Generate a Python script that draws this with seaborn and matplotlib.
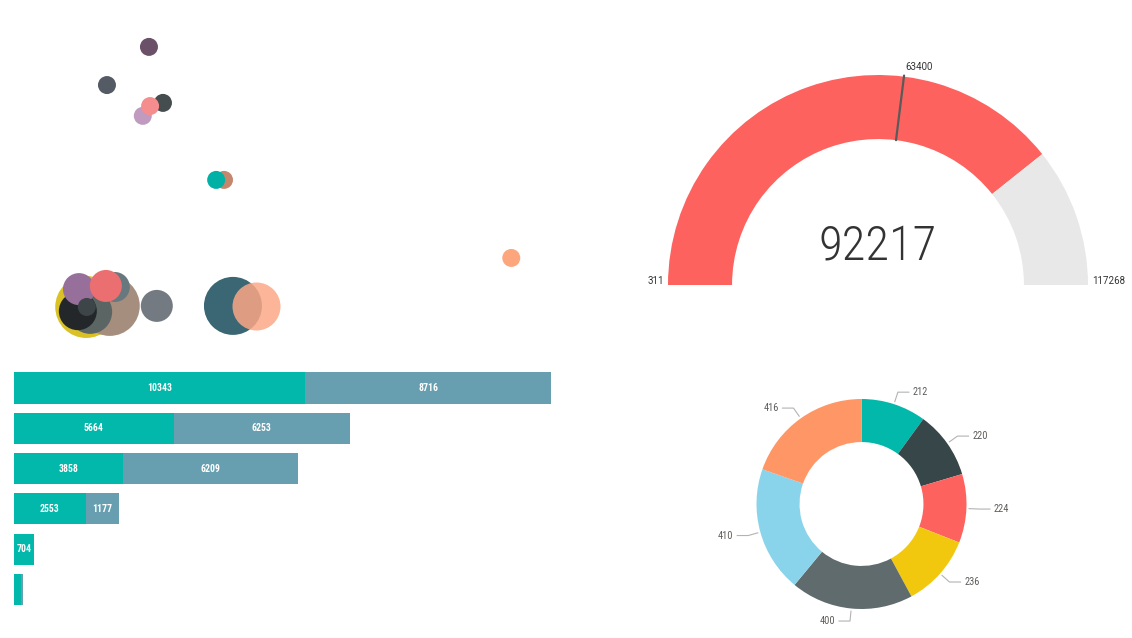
import numpy as np
import pandas as pd
import seaborn as sns
import matplotlib.pyplot as plt
from matplotlib import font_manager

sns.set_theme(style='white')
installed = {f.name for f in font_manager.fontManager.ttflist}
cond_font = next((f for f in ['Roboto Condensed', 'Liberation Sans Narrow', 'DejaVu Sans Condensed']
                  if f in installed), 'Roboto')
plt.rcParams['font.family'] = ['Roboto', 'DejaVu Sans']

# bubble chart (no axes shown)
bubble_names = ['b01', 'b02', 'b03', 'b04', 'b05', 'b06', 'b07', 'b08', 'b09', 'b10',
                'b11', 'b12', 'b13', 'b14', 'b15', 'b16', 'b17', 'b18', 'b19']
bubble_x = [26.6, 19.1, 29.1, 25.5, 26.8, 40.0, 38.6, 91.3, 15.4, 19.6,
            16.1, 13.9, 20.5, 14.1, 18.9, 15.5, 28.0, 41.6, 45.7]
bubble_y = [86.6, 75.7, 70.6, 66.9, 69.7, 48.6, 48.6, 26.3, 12.3, 12.6,
            10.9, 11.1, 18.0, 17.4, 18.3, 12.3, 12.6, 12.6, 12.6]
bubble_volume = [81, 81, 81, 81, 81, 81, 81, 81, 961, 900,
                 484, 361, 225, 256, 256, 81, 256, 841, 576]
bubble_colors = ['#6B5168', '#555B65', '#454D4F', '#C19BBF', '#F58D8E', '#C5876C', '#01B1A6',
                 '#FDA67E', '#DAC125', '#A58E7E', '#5B6564', '#232729', '#67797E', '#976F9B',
                 '#EB6F70', '#3E4549', '#737A81', '#3B6673', '#FCA886']

# stacked bars
bar_cats = ['A', 'B', 'C', 'D', 'E', 'F']
bar_first = [10343, 5664, 3858, 2553, 704, 262]
bar_second = [8716, 6253, 6209, 1177, 0, 70]

# gauge
gauge_min = 311
gauge_max = 117268
gauge_value = 92217
gauge_target = 63400

# donut
donut_values = [212, 220, 224, 236, 400, 410, 416]
donut_colors = ['#01B8AA', '#374649', '#FD625E', '#F2C80F', '#5F6B6D', '#8AD4EB', '#FE9666']

W, H = 1132, 638
fig = plt.figure(figsize=(W / 100, H / 100), dpi=100)


def px_axes(left, top, width, height):
    ax = fig.add_axes([left / W, 1 - (top + height) / H, width / W, height / H])
    ax.set_facecolor('none')
    ax.set_axis_off()
    return ax


# ---- bubbles
ax1 = px_axes(0, 0, 560, 350)
bub = pd.DataFrame({'name': bubble_names, 'x': bubble_x, 'y': bubble_y,
                    'vol': bubble_volume, 'color': bubble_colors})
vmax = max(bubble_volume)
px2 = 1.44 ** 2  # px radius^2 -> points^2 area
solid = bub.iloc[:-1]
glass = bub.iloc[-1:]
sns.scatterplot(data=solid, x='x', y='y', hue='name', palette=dict(zip(solid.name, solid.color)),
                size='vol', sizes=(0, vmax * px2), size_norm=(0, vmax),
                linewidth=0, legend=False, ax=ax1)
sns.scatterplot(data=glass, x='x', y='y', hue='name', palette=dict(zip(glass.name, glass.color)),
                size='vol', sizes=(0, vmax * px2), size_norm=(0, vmax),
                linewidth=0, alpha=0.85, legend=False, ax=ax1)
ax1.set_xlim(0, 100)
ax1.set_ylim(0, 100)
ax1.set_axis_off()

# ---- stacked bars
ax2 = px_axes(14, 367.85, 546, 241.8)
bars = pd.DataFrame({'cat': bar_cats, 'first': bar_first, 'second': bar_second})
bars['total'] = bars['first'] + bars['second']
sns.barplot(data=bars, x='total', y='cat', color='#679FB0', orient='h', width=0.77,
            saturation=1, linewidth=0, ax=ax2)
sns.barplot(data=bars, x='first', y='cat', color='#01B8AA', orient='h', width=0.77,
            saturation=1, linewidth=0, ax=ax2)
for i, row in bars.iterrows():
    if row['first'] >= 500:
        ax2.text(row['first'] / 2, i, str(row['first']), ha='center', va='center',
                 color='white', fontsize=7, fontweight='bold', family=cond_font)
    if row['second'] >= 500:
        ax2.text(row['first'] + row['second'] / 2, i, str(row['second']), ha='center',
                 va='center', color='white', fontsize=7, fontweight='bold', family=cond_font)
ax2.set_xlim(0, 546 / 0.02818)
ax2.set_ylim(5.5, -0.5)
ax2.set_axis_off()

# ---- donut
ax4 = px_axes(704, 346.5, 315, 315)
ax4.pie(donut_values, colors=donut_colors, startangle=90, counterclock=False, radius=1,
        wedgeprops=dict(width=0.41, edgecolor='none'))
total = sum(donut_values)
cum = 0
for v in donut_values:
    mid = np.deg2rad(90 - 360 * (cum + v / 2) / total)
    cum += v
    sx, sy = 1.02 * np.cos(mid), 1.02 * np.sin(mid)
    ex, ey = 1.12 * np.cos(mid), 1.12 * np.sin(mid)
    side = 1 if np.cos(mid) >= 0 else -1
    hx = ex + side * 0.11
    ax4.plot([sx, ex, hx], [sy, ey, ey], color='#B3B3B3', lw=0.8, solid_capstyle='butt')
    ax4.text(hx + side * 0.03, ey, str(v), ha='left' if side > 0 else 'right', va='center',
             color='#605E5C', fontsize=7.5, family=cond_font)
ax4.set_xlim(-1.5, 1.5)
ax4.set_ylim(-1.5, 1.5)
ax4.set_aspect('equal')

# ---- gauge
ax3 = px_axes(647, 54, 462, 462)
span = gauge_max - gauge_min
ax3.pie([gauge_value - gauge_min, gauge_max - gauge_value, span],
        colors=['#FD625E', '#E8E8E8', 'none'], startangle=180, counterclock=False, radius=1,
        wedgeprops=dict(width=0.305, edgecolor='none'))
t = np.deg2rad(180 - 180 * (gauge_target - gauge_min) / span)
ax3.plot([0.695 * np.cos(t), 1.005 * np.cos(t)], [0.695 * np.sin(t), 1.005 * np.sin(t)],
         color='#5A5A5A', lw=1.6)
ax3.text(np.cos(t) + 0.005, np.sin(t) + 0.02, str(gauge_target), ha='left', va='bottom',
         fontsize=7, color='#333333')
ax3.text(-1.02, 0.02, str(gauge_min), ha='right', va='center', fontsize=7, color='#333333')
ax3.text(1.02, 0.02, str(gauge_max), ha='left', va='center', fontsize=7, color='#333333')
ax3.text(0, 0.18, str(gauge_value), ha='center', va='center', fontsize=35, fontweight='light',
         family=cond_font, color='#333333')
ax3.set_xlim(-1.1, 1.1)
ax3.set_ylim(-1.1, 1.1)
ax3.set_aspect('equal')

fig.savefig('out.png', dpi=100, facecolor='white')
